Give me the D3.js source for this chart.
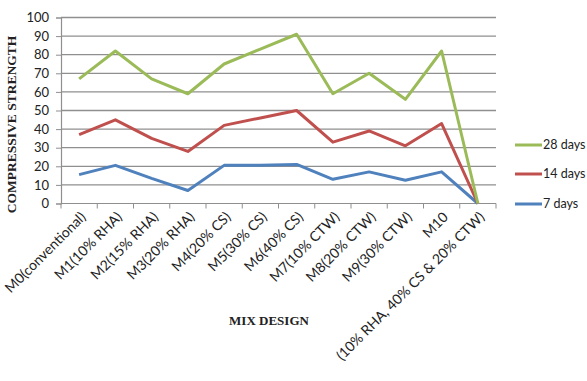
<!DOCTYPE html>
<html>
<head>
<meta charset="utf-8">
<script src="https://cdn.jsdelivr.net/npm/d3@7/dist/d3.min.js"></script>
<style>
  html, body { margin: 0; padding: 0; background: #fff; }
  svg { display: block; }
</style>
</head>
<body>
<svg id="chart" width="587" height="381"></svg>
<script>
// Mix designs along the x axis
const categories = [
  "M0(conventional)", "M1(10% RHA)", "M2(15% RHA)", "M3(20% RHA)",
  "M4(20% CS)", "M5(30% CS)", "M6(40% CS)", "M7(10% CTW)",
  "M8(20% CTW)", "M9(30% CTW)", "M10", "(10% RHA, 40% CS & 20% CTW)"
];

// Compressive strength by curing age
const days7  = [15.5, 20.5, 13.5, 7, 20.5, 20.5, 21, 13, 17, 12.5, 17, 0];
const days14 = [37, 45, 35, 28, 42, 46, 50, 33, 39, 31, 43, 0];
const days28 = [67, 82, 67, 59, 75, 83, 91, 59, 70, 56, 82, 0];

const yTicks = [0, 10, 20, 30, 40, 50, 60, 70, 80, 90, 100];

const series = [
  { name: "28 days", values: days28, color: "#9bbb59" },
  { name: "14 days", values: days14, color: "#c0504d" },
  { name: "7 days",  values: days7,  color: "#4f81bd" }
];

const svg = d3.select("#chart");
const plotLeft = 61, plotRight = 496, plotTop = 17.5, plotBottom = 203.5;

const x = d3.scaleBand().domain(categories).range([plotLeft, plotRight]).padding(0);
const y = d3.scaleLinear().domain([0, 100]).range([plotBottom, plotTop]);

// Horizontal gridlines
svg.append("g")
  .selectAll("line")
  .data(yTicks.filter(d => d > 0))
  .join("line")
  .attr("x1", plotLeft).attr("x2", plotRight)
  .attr("y1", d => y(d)).attr("y2", d => y(d))
  .attr("stroke", "#8f8f8f")
  .attr("stroke-width", 1.3);

// Y axis
const yAxis = svg.append("g")
  .attr("transform", `translate(${plotLeft},0)`)
  .call(d3.axisLeft(y).tickValues(yTicks).tickSize(5).tickPadding(7));
yAxis.select(".domain").attr("stroke", "#8f8f8f").attr("stroke-width", 1.2);
yAxis.selectAll(".tick line").attr("stroke", "#8f8f8f");
yAxis.selectAll(".tick text")
  .attr("fill", "#222")
  .style("font-family", "Lato, 'Liberation Sans', sans-serif")
  .style("font-size", "13px");

// X axis with ticks on category boundaries
const xAxis = svg.append("g").attr("transform", `translate(0,${plotBottom})`);
xAxis.append("line")
  .attr("x1", plotLeft).attr("x2", plotRight)
  .attr("stroke", "#8f8f8f").attr("stroke-width", 1.2);
xAxis.selectAll("line.tk")
  .data(d3.range(categories.length + 1))
  .join("line")
  .attr("class", "tk")
  .attr("x1", i => plotLeft + i * x.bandwidth())
  .attr("x2", i => plotLeft + i * x.bandwidth())
  .attr("y1", 0).attr("y2", 5)
  .attr("stroke", "#8f8f8f");
xAxis.selectAll("text")
  .data(categories)
  .join("text")
  .attr("transform", d => `translate(${x(d) + x.bandwidth() / 2 + 4},${11}) rotate(-45)`)
  .attr("text-anchor", "end")
  .attr("dy", "0.35em")
  .attr("fill", "#222")
  .style("font-family", "Lato, 'Liberation Sans', sans-serif")
  .style("font-size", "14px")
  .text(d => d);

// Series lines
const line = d3.line()
  .x((d, i) => x(categories[i]) + x.bandwidth() / 2)
  .y(d => y(d));

svg.append("g")
  .selectAll("path")
  .data(series.slice().reverse())
  .join("path")
  .attr("d", s => line(s.values))
  .attr("fill", "none")
  .attr("stroke", s => s.color)
  .attr("stroke-width", 3)
  .attr("stroke-linejoin", "round");

// Axis titles
svg.append("text")
  .attr("transform", `translate(16,${(plotTop + plotBottom) / 2 + 14}) rotate(-90)`)
  .attr("text-anchor", "middle")
  .attr("fill", "#222")
  .style("font-family", "'Liberation Serif', 'DejaVu Serif', serif")
  .style("font-weight", "bold")
  .style("font-size", "13.5px")
  .text("COMPRESSIVE STRENGTH");

svg.append("text")
  .attr("x", 269).attr("y", 325)
  .attr("text-anchor", "middle")
  .attr("fill", "#222")
  .style("font-family", "'Liberation Serif', 'DejaVu Serif', serif")
  .style("font-weight", "bold")
  .style("font-size", "13px")
  .text("MIX DESIGN");

// Legend
const legendY = [145, 174, 204];
const legend = svg.append("g")
  .selectAll("g")
  .data(series)
  .join("g")
  .attr("transform", (s, i) => `translate(515,${legendY[i]})`);
legend.append("line")
  .attr("x1", 0).attr("x2", 27)
  .attr("stroke", s => s.color)
  .attr("stroke-width", 3);
legend.append("text")
  .attr("x", 28).attr("dy", "0.35em")
  .attr("fill", "#222")
  .style("font-family", "Lato, 'Liberation Sans', sans-serif")
  .style("font-size", "12.5px")
  .text(s => s.name);
</script>
</body>
</html>
